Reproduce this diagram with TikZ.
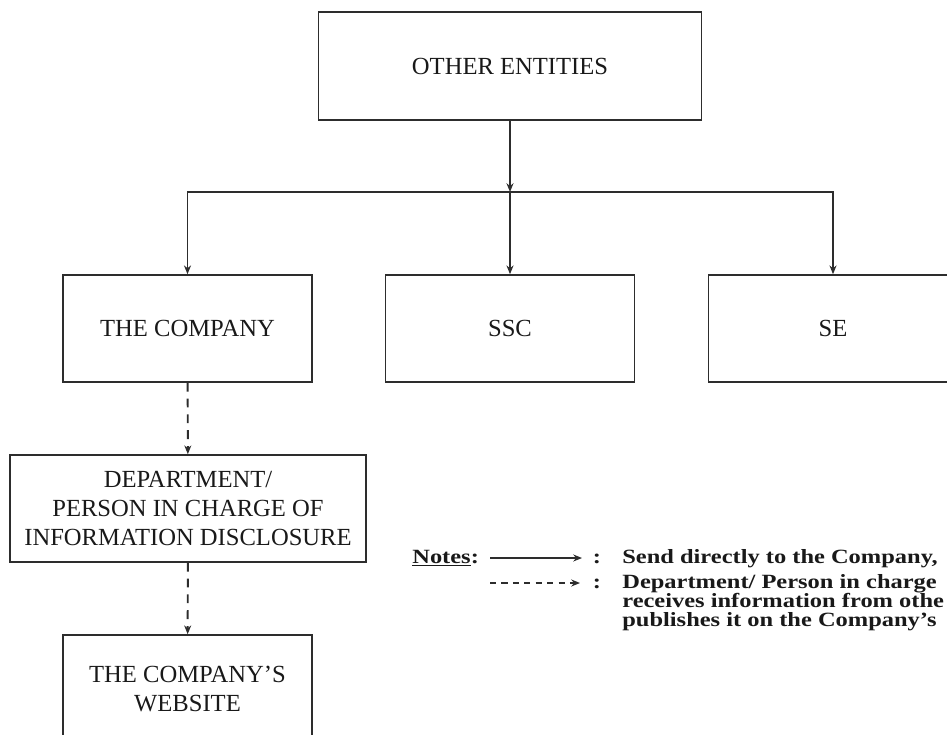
\documentclass[tikz,border=0pt]{standalone}
\usepackage{fontspec}
\setmainfont{Liberation Serif}
\newfontfamily\notefont[Ligatures=TeX,FakeStretch=1.21]{Liberation Serif}
\usepackage{tikz}
\usetikzlibrary{arrows.meta,positioning}
\definecolor{inkgray}{RGB}{45,45,45}
\definecolor{inktext}{RGB}{25,25,25}

\begin{document}
\begin{tikzpicture}[x=1.0cm,y=1.0cm,
    entity/.style={draw=inkgray, line width=0.9pt, minimum width=4.98cm, minimum height=2.14cm,
      inner sep=0pt, align=center, text=inktext, font=\fontsize{14}{16.5}\selectfont},
    link/.style={draw=inkgray, line width=0.9pt, -{Stealth[length=5pt,width=4pt]}},
    dashlink/.style={link, line width=1.1pt, dash pattern=on 5pt off 4pt},
    note/.style={inner sep=0pt, text=inktext, font=\notefont\bfseries\fontsize{11.5}{10.8}\selectfont}]
  \useasboundingbox (0,0) rectangle (18.94,14.68);
  % boxes
  \node[entity, minimum width=7.66cm, minimum height=2.16cm] (others) at (10.2,13.36) {OTHER ENTITIES};
  \node[entity] (company) at (3.75,8.11) {THE COMPANY};
  \node[entity] (ssc) at (10.2,8.11) {SSC};
  \node[entity] (se) at (16.66,8.11) {SE};
  \node[entity, minimum width=7.12cm] (dept) at (3.76,4.51) {DEPARTMENT/\\PERSON IN CHARGE OF\\INFORMATION DISCLOSURE};
  \node[entity] (website) at (3.75,0.91) {THE COMPANY'S\\WEBSITE};
  % links
  \coordinate (split) at (10.2,10.84);
  \draw[link] (others) -- (split);
  \draw[link] (split) -- (ssc);
  \draw[link] (split) -| (company);
  \draw[link] (split) -| (se);
  \draw[dashlink] (company) -- (dept);
  \draw[dashlink] (dept) -- (website);
  % notes
  \node[note, anchor=base west] (notes) at (8.24,3.42) {\underline{Notes}:};
  \coordinate (solidA) at (9.8,3.52);
  \coordinate (solidB) at (11.64,3.52);
  \coordinate (dashA) at (9.8,3.02);
  \coordinate (dashB) at (11.6,3.02);
  \draw[link, line width=0.7pt] (solidA) -- (solidB);
  \draw[link, line width=0.8pt, dash pattern=on 3.5pt off 3pt] (dashA) -- (dashB);
  \node[note, anchor=base] (colA) at (11.94,3.42) {:};
  \node[note, anchor=base] (colB) at (11.94,2.92) {:};
  \node[note, anchor=base west] (sendtxt) at (12.44,3.42) {Send directly to the Company,};
  \node[note, anchor=north west, align=left] (depttxt) at (12.44,3.2)
    {Department/ Person in charge\\receives information from othe\\publishes it on the Company's};
\end{tikzpicture}
\end{document}
